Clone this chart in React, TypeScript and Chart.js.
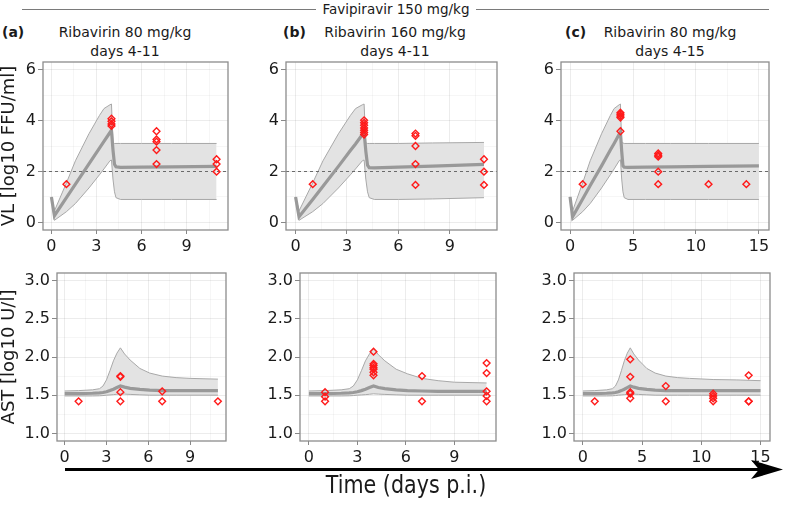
import React, { useEffect, useRef } from "react";
import { Chart, registerables } from "chart.js";
Chart.register(...registerables);

const FONT = "'DejaVu Sans', sans-serif";

// ---------- header texts ----------
const topHeader = "Favipiravir 150 mg/kg";
const panelTags = ["(a)", "(b)", "(c)"];
const panelTitles = ["Ribavirin 80 mg/kg", "Ribavirin 160 mg/kg", "Ribavirin 80 mg/kg"];
const panelSubtitles = ["days 4-11", "days 4-11", "days 4-15"];
const vlAxisTitle = "VL [log10 FFU/ml]";
const astAxisTitle = "AST [log10 U/l]";
const timeTitle = "Time (days p.i.)";

// ---------- tick values / labels ----------
const xMajorShort = [0, 3, 6, 9];
const xMinorShort = [1.5, 4.5, 7.5, 10.5];
const xMajorLong = [0, 5, 10, 15];
const xMinorLong = [2.5, 7.5, 12.5];
const vlYMajor = [0, 2, 4, 6];
const vlYMinor = [1, 3, 5];
const vlYLabels = ["0", "2", "4", "6"];
const astYMajor = [1, 1.5, 2, 2.5, 3];
const astYMinor = [1.25, 1.75, 2.25, 2.75];
const astYLabels = ["1.0", "1.5", "2.0", "2.5", "3.0"];

// ---------- axis ranges ----------
const vlRange = [-0.3, 6.3];
const astRange = [0.9, 3.1];
const xRangeTopShort = [-0.56, 11.76];
const xRangeTopLong = [-0.72, 15.8];
const xRangeBotShort = [-0.55, 11.58];
const xRangeBotLong = [-0.75, 15.8];
const detectionLimit = 2;

// ---------- VL model (median and band) ----------
const vlTimeAB = [0, 0.2, 1, 1.6, 2.5, 3.2, 3.5, 3.9, 4.0, 4.1, 4.2, 4.3, 4.6, 6, 8, 11];
const vlMedA = [1.0, 0.26, 0.97, 1.5, 2.3, 2.92, 3.18, 3.53, 3.62, 2.85, 2.28, 2.18, 2.16, 2.17, 2.18, 2.2];
const vlUpA = [1.0, 0.45, 1.55, 2.42, 3.48, 4.2, 4.47, 4.62, 4.65, 3.12, 3.1, 3.1, 3.1, 3.1, 3.1, 3.1];
const vlLowA = [1.0, 0.08, 0.42, 0.74, 1.35, 1.87, 2.1, 2.42, 2.45, 1.7, 1.2, 0.97, 0.9, 0.9, 0.9, 0.9];
const vlMedB = [1.0, 0.22, 0.9, 1.42, 2.2, 2.82, 3.08, 3.45, 3.55, 2.8, 2.25, 2.15, 2.14, 2.17, 2.21, 2.28];
const vlUpB = [1.0, 0.45, 1.55, 2.42, 3.48, 4.2, 4.47, 4.62, 4.65, 3.12, 3.1, 3.1, 3.1, 3.1, 3.12, 3.14];
const vlLowB = [1.0, 0.08, 0.42, 0.74, 1.35, 1.87, 2.1, 2.42, 2.45, 1.7, 1.2, 0.97, 0.9, 0.9, 0.92, 0.97];
const vlTimeC = [0, 0.2, 1, 1.6, 2.5, 3.2, 3.5, 3.9, 4.0, 4.1, 4.2, 4.3, 4.6, 6, 8, 11, 15];
const vlMedC = [1.0, 0.22, 0.92, 1.45, 2.22, 2.84, 3.1, 3.46, 3.55, 2.8, 2.22, 2.17, 2.16, 2.17, 2.18, 2.2, 2.22];
const vlUpC = [1.0, 0.45, 1.55, 2.42, 3.48, 4.2, 4.47, 4.62, 4.65, 3.14, 3.12, 3.1, 3.1, 3.1, 3.1, 3.1, 3.1];
const vlLowC = [1.0, 0.08, 0.42, 0.74, 1.35, 1.87, 2.1, 2.42, 2.46, 1.7, 1.2, 0.97, 0.9, 0.9, 0.9, 0.9, 0.9];

// ---------- VL observations ----------
const vlDayA = [1, 4, 4, 4, 4, 7, 7, 7, 7, 7, 11, 11, 11];
const vlObsA = [1.5, 4.07, 3.97, 3.86, 3.79, 3.58, 3.26, 3.17, 2.84, 2.29, 2.48, 2.29, 1.99];
const vlDayB = [1, 4, 4, 4, 4, 4, 4, 4, 7, 7, 7, 7, 7, 11, 11, 11];
const vlObsB = [1.5, 4.01, 3.91, 3.82, 3.71, 3.62, 3.53, 3.45, 3.49, 3.4, 3.0, 2.29, 1.47, 2.48, 1.99, 1.47];
const vlDayC = [1, 4, 4, 4, 4, 4, 7, 7, 7, 7, 7, 11, 14];
const vlObsC = [1.5, 4.31, 4.25, 4.18, 4.12, 3.58, 2.71, 2.64, 2.58, 1.99, 1.5, 1.5, 1.5];

// ---------- AST model ----------
const astTimeAB = [0, 1, 2, 2.5, 2.75, 3, 3.25, 3.5, 3.75, 4, 4.3, 4.7, 5.4, 6.1, 7, 8, 9, 11];
const astMedA = [1.52, 1.52, 1.525, 1.53, 1.535, 1.545, 1.56, 1.578, 1.6, 1.62, 1.605, 1.59, 1.575, 1.565, 1.56, 1.56, 1.56, 1.56];
const astUpA = [1.555, 1.56, 1.57, 1.585, 1.62, 1.7, 1.82, 1.95, 2.05, 2.12, 2.04, 1.96, 1.85, 1.79, 1.75, 1.73, 1.72, 1.71];
const astLowA = [1.49, 1.49, 1.49, 1.492, 1.495, 1.5, 1.503, 1.507, 1.512, 1.518, 1.514, 1.51, 1.505, 1.5, 1.5, 1.5, 1.5, 1.5];
const astMedB = [1.52, 1.52, 1.525, 1.53, 1.535, 1.545, 1.56, 1.578, 1.6, 1.62, 1.6, 1.585, 1.57, 1.56, 1.555, 1.55, 1.55, 1.55];
const astUpB = [1.555, 1.56, 1.57, 1.585, 1.62, 1.7, 1.82, 1.95, 2.04, 2.11, 2.03, 1.95, 1.84, 1.78, 1.72, 1.69, 1.67, 1.66];
const astLowB = [1.49, 1.49, 1.49, 1.492, 1.495, 1.5, 1.503, 1.507, 1.512, 1.518, 1.514, 1.51, 1.505, 1.5, 1.5, 1.5, 1.5, 1.5];
const astTimeC = [0, 1, 2, 2.5, 2.75, 3, 3.25, 3.5, 3.75, 4, 4.3, 4.7, 5.4, 6.1, 7, 8, 9, 11, 13, 15];
const astMedC = [1.52, 1.52, 1.525, 1.53, 1.535, 1.545, 1.56, 1.578, 1.6, 1.62, 1.605, 1.59, 1.575, 1.565, 1.56, 1.56, 1.56, 1.56, 1.56, 1.56];
const astUpC = [1.555, 1.56, 1.57, 1.585, 1.62, 1.7, 1.82, 1.95, 2.05, 2.12, 2.04, 1.96, 1.85, 1.79, 1.75, 1.73, 1.72, 1.705, 1.7, 1.69];
const astLowC = [1.49, 1.49, 1.49, 1.492, 1.495, 1.5, 1.503, 1.507, 1.512, 1.518, 1.514, 1.51, 1.505, 1.5, 1.5, 1.5, 1.5, 1.5, 1.5, 1.5];

// ---------- AST observations ----------
const astDayA = [1, 4, 4, 4, 4, 7, 7, 11];
const astObsA = [1.42, 1.75, 1.74, 1.54, 1.42, 1.55, 1.42, 1.42];
const astDayB = [1, 1, 1, 4, 4, 4, 4, 4, 4, 4, 7, 7, 11, 11, 11, 11, 11];
const astObsB = [1.54, 1.48, 1.42, 2.07, 1.91, 1.89, 1.86, 1.84, 1.8, 1.76, 1.75, 1.42, 1.92, 1.79, 1.55, 1.49, 1.42];
const astDayC = [1, 4, 4, 4, 4, 4, 7, 7, 11, 11, 11, 11, 14, 14, 14];
const astObsC = [1.42, 1.97, 1.74, 1.54, 1.52, 1.46, 1.62, 1.42, 1.52, 1.49, 1.46, 1.42, 1.76, 1.42, 1.42];

type Spec = {
  boxLeft: number; boxRight: number; boxTop: number; boxBottom: number; yWidth: number;
  xRange: number[]; xMajor: number[]; xMinor: number[];
  yRange: number[]; yMajor: number[]; yMinor: number[]; yLabels: string[];
  yTitle?: string;
  t: number[]; med: number[]; up: number[]; low: number[];
  obsX: number[]; obsY: number[]; lod?: number;
};

const PAD_TOP = 14;
const PAD_RIGHT = 12;
const X_HEIGHT = 28;

const pts = (xs: number[], ys: number[]) => xs.map((x, i) => ({ x, y: ys[i] }));

function Panel({ s }: { s: Spec }) {
  const ref = useRef<HTMLCanvasElement>(null);
  const w = s.yWidth + (s.boxRight - s.boxLeft) + PAD_RIGHT;
  const h = PAD_TOP + (s.boxBottom - s.boxTop) + X_HEIGHT;
  useEffect(() => {
    const cv = ref.current!;
    const tickSet = (maj: number[], min: number[]) => () =>
      [...maj, ...min].sort((a, b) => a - b).map((v) => ({ value: v }));
    const xTicks = tickSet(s.xMajor, s.xMinor);
    const yTicks = tickSet(s.yMajor, s.yMinor);
    const framePlugin = {
      id: "frame",
      afterDatasetDraw(chart: any, args: any) {
        if (args.index === 1 && s.lod !== undefined) {
          const { ctx, chartArea } = chart;
          const y = chart.scales.y.getPixelForValue(s.lod);
          ctx.save();
          ctx.strokeStyle = "#6a6a6a";
          ctx.lineWidth = 1;
          ctx.setLineDash([3, 3]);
          ctx.beginPath();
          ctx.moveTo(chartArea.left, Math.round(y) + 0.5);
          ctx.lineTo(chartArea.right, Math.round(y) + 0.5);
          ctx.stroke();
          ctx.restore();
        }
      },
      afterDraw(chart: any) {
        const { ctx, chartArea } = chart;
        ctx.save();
        ctx.strokeStyle = "#8c8c8c";
        ctx.lineWidth = 1.3;
        ctx.strokeRect(chartArea.left, chartArea.top, chartArea.right - chartArea.left, chartArea.bottom - chartArea.top);
        ctx.restore();
      },
    };
    const gridColor = (maj: number[]) => (ctx: any) =>
      ctx.tick && maj.includes(ctx.tick.value) ? "rgba(0,0,0,0.075)" : "rgba(0,0,0,0.035)";
    const tickColor = (maj: number[]) => (ctx: any) =>
      ctx.tick && maj.includes(ctx.tick.value) ? "#888888" : "rgba(0,0,0,0)";
    const chart = new Chart(cv, {
      type: "line",
      data: {
        datasets: [
          {
            data: pts(s.t, s.up), fill: "+1", backgroundColor: "#e3e3e3",
            borderColor: "#a8a8a8", borderWidth: 1, pointRadius: 0, tension: 0, order: 4,
          },
          {
            data: pts(s.t, s.low), fill: false, borderColor: "#a8a8a8", borderWidth: 1,
            pointRadius: 0, tension: 0, order: 3,
          },
          {
            data: pts(s.t, s.med), fill: false, borderColor: "#999999", borderWidth: 3.2,
            pointRadius: 0, tension: 0, order: 2,
          },
          {
            data: pts(s.obsX, s.obsY), showLine: false, pointStyle: "rectRot", pointRadius: 3.4,
            pointBorderColor: "#ff1a1a", pointBackgroundColor: "rgba(255,255,255,0)",
            pointBorderWidth: 1.4, order: 1,
          },
        ] as any,
      },
      options: {
        animation: false,
        responsive: false,
        maintainAspectRatio: false,
        devicePixelRatio: 1,
        events: [],
        layout: { padding: { top: PAD_TOP, right: PAD_RIGHT, left: 0, bottom: 0 } },
        plugins: { legend: { display: false }, tooltip: { enabled: false }, title: { display: false } },
        scales: {
          x: {
            type: "linear", min: s.xRange[0], max: s.xRange[1],
            afterBuildTicks: (sc: any) => { sc.ticks = xTicks(); },
            afterFit: (sc: any) => { sc.height = X_HEIGHT; },
            border: { display: false },
            grid: { color: gridColor(s.xMajor), tickColor: tickColor(s.xMajor), tickLength: 4, lineWidth: 1 },
            ticks: {
              autoSkip: false, maxRotation: 0, padding: 3, color: "#1a1a1a",
              font: { family: FONT, size: 16 },
              callback: (v: any) => (s.xMajor.includes(v) ? String(v) : ""),
            },
          },
          y: {
            type: "linear", min: s.yRange[0], max: s.yRange[1],
            afterBuildTicks: (sc: any) => { sc.ticks = yTicks(); },
            afterFit: (sc: any) => { sc.width = s.yWidth; },
            border: { display: false },
            grid: { color: gridColor(s.yMajor), tickColor: tickColor(s.yMajor), tickLength: 5, lineWidth: 1 },
            ticks: {
              autoSkip: false, padding: 2, color: "#1a1a1a",
              font: { family: FONT, size: 16 },
              callback: (v: any) => {
                const i = s.yMajor.indexOf(v);
                return i >= 0 ? s.yLabels[i] : "";
              },
            },
            title: {
              display: !!s.yTitle, text: s.yTitle || "", color: "#1a1a1a",
              font: { family: FONT, size: 18 }, padding: { top: 0, bottom: 0 },
            },
          },
        },
      } as any,
      plugins: [framePlugin as any],
    });
    return () => chart.destroy();
  }, []);
  return (
    <canvas
      ref={ref}
      width={w}
      height={h}
      style={{ position: "absolute", left: s.boxLeft - s.yWidth, top: s.boxTop - PAD_TOP, width: w, height: h }}
    />
  );
}

const TOP = { boxTop: 62, boxBottom: 230 };
const BOT = { boxTop: 273, boxBottom: 441 };

const specs: Spec[] = [
  { ...TOP, boxLeft: 43, boxRight: 228, yWidth: 44, xRange: xRangeTopShort, xMajor: xMajorShort, xMinor: xMinorShort,
    yRange: vlRange, yMajor: vlYMajor, yMinor: vlYMinor, yLabels: vlYLabels, yTitle: vlAxisTitle,
    t: vlTimeAB, med: vlMedA, up: vlUpA, low: vlLowA, obsX: vlDayA, obsY: vlObsA, lod: detectionLimit },
  { ...TOP, boxLeft: 286, boxRight: 497, yWidth: 40, xRange: xRangeTopShort, xMajor: xMajorShort, xMinor: xMinorShort,
    yRange: vlRange, yMajor: vlYMajor, yMinor: vlYMinor, yLabels: vlYLabels,
    t: vlTimeAB, med: vlMedB, up: vlUpB, low: vlLowB, obsX: vlDayB, obsY: vlObsB, lod: detectionLimit },
  { ...TOP, boxLeft: 561, boxRight: 769, yWidth: 40, xRange: xRangeTopLong, xMajor: xMajorLong, xMinor: xMinorLong,
    yRange: vlRange, yMajor: vlYMajor, yMinor: vlYMinor, yLabels: vlYLabels,
    t: vlTimeC, med: vlMedC, up: vlUpC, low: vlLowC, obsX: vlDayC, obsY: vlObsC, lod: detectionLimit },
  { ...BOT, boxLeft: 57, boxRight: 226, yWidth: 58, xRange: xRangeBotShort, xMajor: xMajorShort, xMinor: xMinorShort,
    yRange: astRange, yMajor: astYMajor, yMinor: astYMinor, yLabels: astYLabels, yTitle: astAxisTitle,
    t: astTimeAB, med: astMedA, up: astUpA, low: astLowA, obsX: astDayA, obsY: astObsA },
  { ...BOT, boxLeft: 300, boxRight: 496, yWidth: 50, xRange: xRangeBotShort, xMajor: xMajorShort, xMinor: xMinorShort,
    yRange: astRange, yMajor: astYMajor, yMinor: astYMinor, yLabels: astYLabels,
    t: astTimeAB, med: astMedB, up: astUpB, low: astLowB, obsX: astDayB, obsY: astObsB },
  { ...BOT, boxLeft: 574, boxRight: 770, yWidth: 50, xRange: xRangeBotLong, xMajor: xMajorLong, xMinor: xMinorLong,
    yRange: astRange, yMajor: astYMajor, yMinor: astYMinor, yLabels: astYLabels,
    t: astTimeC, med: astMedC, up: astUpC, low: astLowC, obsX: astDayC, obsY: astObsC },
];

const tagLefts = [2, 283, 565];
const titleCenters = [125, 395, 670];

function Txt({ x, cy, size, children, bold, align = "center" }: any) {
  const lh = Math.round(size * 1.2);
  const style: React.CSSProperties = {
    position: "absolute", top: cy - lh / 2 - size * 0.05, height: lh, lineHeight: lh + "px",
    fontFamily: FONT, fontSize: size, fontWeight: bold ? "bold" : "normal", color: "#1a1a1a", whiteSpace: "nowrap",
  };
  if (align === "center") {
    style.left = x - 200; style.width = 400; style.textAlign = "center";
  } else {
    style.left = x;
  }
  return <div style={style}>{children}</div>;
}

export default function App() {
  return (
    <div style={{ position: "absolute", left: 0, top: 0, width: 787, height: 507, background: "#ffffff", overflow: "hidden" }}>
      {/* top header line */}
      <div style={{ position: "absolute", left: 22, top: 9, width: 747, height: 0, borderTop: "1px solid #7a7a7a" }} />
      <div style={{ position: "absolute", left: 316, top: 0, width: 160, height: 20, background: "#ffffff" }} />
      <Txt x={396} cy={9.5} size={13.5}>{topHeader}</Txt>
      {panelTags.map((t, i) => (
        <Txt key={"tag" + i} x={tagLefts[i]} cy={33} size={14} bold align="left">{t}</Txt>
      ))}
      {panelTitles.map((t, i) => (
        <Txt key={"ti" + i} x={titleCenters[i]} cy={33} size={14}>{t}</Txt>
      ))}
      {panelSubtitles.map((t, i) => (
        <Txt key={"st" + i} x={titleCenters[i]} cy={52.5} size={14}>{t}</Txt>
      ))}
      {specs.map((s, i) => (
        <Panel key={i} s={s} />
      ))}
      <svg width={787} height={507} style={{ position: "absolute", left: 0, top: 0, pointerEvents: "none" }}>
        <line x1={65} y1={469.5} x2={762} y2={469.5} stroke="#000" strokeWidth={3} />
        <polygon points="751,460 783,469.5 751,479 759,469.5" fill="#000" />
      </svg>
      <div
        style={{
          position: "absolute", left: 206, width: 400, top: 470, height: 30, lineHeight: "30px", textAlign: "center",
          fontFamily: FONT, fontSize: 24, color: "#1a1a1a", transform: "scaleX(0.86)", whiteSpace: "nowrap",
        }}
      >
        {timeTitle}
      </div>
    </div>
  );
}
